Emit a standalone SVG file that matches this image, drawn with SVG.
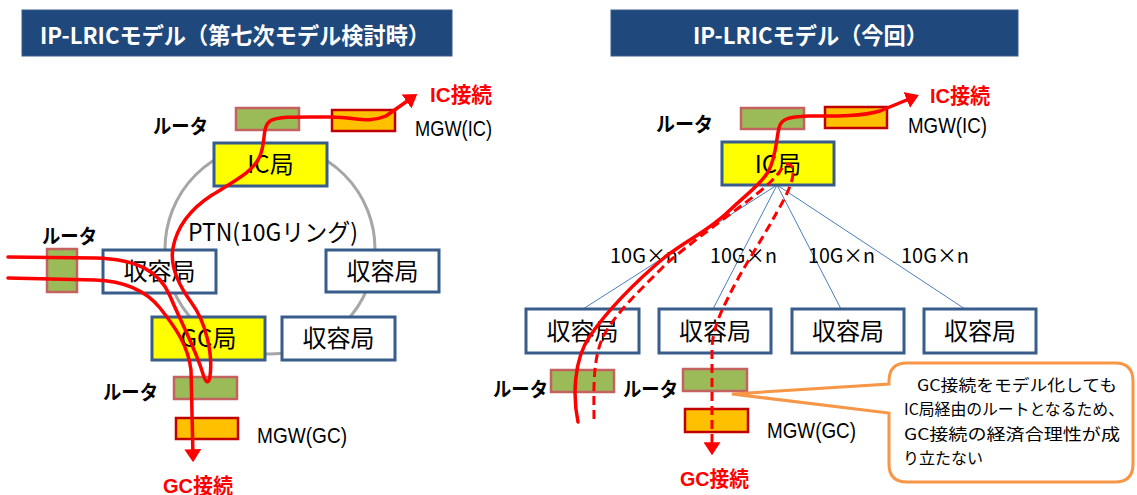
<svg xmlns="http://www.w3.org/2000/svg" width="1137" height="495" viewBox="0 0 1137 495">
<defs>
<marker id="arr" viewBox="0 0 10 10" refX="6" refY="5" markerWidth="13" markerHeight="17" markerUnits="userSpaceOnUse" orient="auto" preserveAspectRatio="none">
<path d="M0,0 L10,5 L0,10 Z" fill="#FF0000"/>
</marker>
</defs>
<style>
text{font-family:"Liberation Sans","Noto Sans CJK JP",sans-serif;fill:#000}
.title{fill:#1F497D;stroke:#385D8A;stroke-width:1}
.ttl{fill:#fff;font-size:23px;font-weight:bold;font-family:"Noto Sans CJK JP",sans-serif}
.box{fill:#fff;stroke:#385D8A;stroke-width:3}
.ybox{fill:#FFFF00;stroke:#385D8A;stroke-width:3}
.router{fill:#9BBB59;stroke:#C3625F;stroke-width:2.5}
.mgw{fill:#FFC000;stroke:#C00000;stroke-width:2.5}
.bt{font-size:24px;font-family:"Noto Sans CJK JP",sans-serif}
.lbl{font-size:20px;font-weight:bold;font-family:"Noto Sans CJK JP",sans-serif}
.ml{font-size:22px}
.red{fill:#FF0000;font-size:21px;font-weight:bold}
.gn{font-size:20px;font-family:"Noto Sans CJK JP",sans-serif}
.co{font-size:16px;font-family:"Noto Sans CJK JP",sans-serif}
.ring{fill:none;stroke:#A6A6A6;stroke-width:3}
.fan{stroke:#4A7EBB;stroke-width:1;fill:none}
.rl{fill:none;stroke:#FF0000;stroke-width:3.5;stroke-linecap:round;stroke-linejoin:round}
.rd{fill:none;stroke:#FF0000;stroke-width:3;stroke-dasharray:9 5}
</style>
<rect width="1137" height="495" fill="#fff"/>

<g id="title-left">
<rect class="title" x="22" y="10" width="430" height="46"/>
<text class="ttl" x="40" y="44" textLength="390" lengthAdjust="spacingAndGlyphs">IP-LRICモデル（第七次モデル検討時）</text>
</g>
<g id="title-right">
<rect class="title" x="611" y="10" width="407" height="46"/>
<text class="ttl" x="693" y="44" textLength="235" lengthAdjust="spacingAndGlyphs">IP-LRICモデル（今回）</text>
</g>

<g id="ptn-ring">
<circle class="ring" cx="270" cy="249" r="105"/>
</g>

<g id="connectors-fan">
<line class="fan" x1="777" y1="185" x2="583" y2="309"/>
<line class="fan" x1="777" y1="185" x2="713" y2="309"/>
<line class="fan" x1="777" y1="185" x2="841" y2="309"/>
<line class="fan" x1="777" y1="185" x2="965" y2="309"/>
</g>

<g id="l-router-ic">
<rect class="router" x="236" y="108" width="63" height="22"/>
<text class="lbl" x="153" y="134" textLength="55" lengthAdjust="spacingAndGlyphs">ルータ</text>
</g>
<g id="l-mgw-ic">
<rect class="mgw" x="332" y="110" width="63" height="21"/>
<text class="ml" x="415" y="136" textLength="77" lengthAdjust="spacingAndGlyphs">MGW(IC)</text>
</g>
<g id="l-ic">
<rect class="ybox" x="214" y="143" width="113" height="43"/>
<text class="bt" x="270.5" y="173" text-anchor="middle">IC局</text>
</g>
<g id="l-ptn-label">
<text class="bt" x="188" y="241" textLength="170" lengthAdjust="spacingAndGlyphs">PTN(10Gリング)</text>
</g>
<g id="l-router-left">
<rect class="router" x="47" y="249" width="30" height="43"/>
<text class="lbl" x="42" y="244" textLength="55" lengthAdjust="spacingAndGlyphs">ルータ</text>
</g>
<g id="l-acc1">
<rect class="box" x="103" y="250" width="113" height="43"/>
<text class="bt" x="159.5" y="280" text-anchor="middle">収容局</text>
</g>
<g id="l-acc2">
<rect class="box" x="326" y="250" width="113" height="42"/>
<text class="bt" x="382.5" y="280" text-anchor="middle">収容局</text>
</g>
<g id="l-gc">
<rect class="ybox" x="152" y="317" width="113" height="43"/>
<text class="bt" x="208.5" y="347" text-anchor="middle">GC局</text>
</g>
<g id="l-acc3">
<rect class="box" x="282" y="317" width="113" height="43"/>
<text class="bt" x="338.5" y="347" text-anchor="middle">収容局</text>
</g>
<g id="l-router-gc">
<rect class="router" x="174" y="377" width="63" height="22"/>
<text class="lbl" x="103" y="400" textLength="55" lengthAdjust="spacingAndGlyphs">ルータ</text>
</g>
<g id="l-mgw-gc">
<rect class="mgw" x="176" y="418" width="62" height="21"/>
<text class="ml" x="257" y="443" textLength="90" lengthAdjust="spacingAndGlyphs">MGW(GC)</text>
</g>
<g id="l-labels">
<text class="red" x="430" y="102" textLength="62" lengthAdjust="spacingAndGlyphs">IC接続</text>
<text class="red" x="163" y="493" textLength="70" lengthAdjust="spacingAndGlyphs">GC接続</text>
</g>

<g id="r-router-ic">
<rect class="router" x="741" y="108" width="63" height="21"/>
<text class="lbl" x="656" y="132" textLength="57" lengthAdjust="spacingAndGlyphs">ルータ</text>
</g>
<g id="r-mgw-ic">
<rect class="mgw" x="825" y="107" width="62" height="21"/>
<text class="ml" x="908" y="133" textLength="79" lengthAdjust="spacingAndGlyphs">MGW(IC)</text>
</g>
<g id="r-ic">
<rect class="ybox" x="722" y="142" width="112" height="43"/>
<text class="bt" x="778" y="173" text-anchor="middle">IC局</text>
</g>
<g id="r-acc1">
<rect class="box" x="526" y="309" width="113" height="44"/>
<text class="bt" x="582.5" y="340" text-anchor="middle">収容局</text>
</g>
<g id="r-acc2">
<rect class="box" x="659" y="309" width="112" height="44"/>
<text class="bt" x="715" y="340" text-anchor="middle">収容局</text>
</g>
<g id="r-acc3">
<rect class="box" x="792" y="309" width="112" height="44"/>
<text class="bt" x="848" y="340" text-anchor="middle">収容局</text>
</g>
<g id="r-acc4">
<rect class="box" x="924" y="309" width="112" height="44"/>
<text class="bt" x="980" y="340" text-anchor="middle">収容局</text>
</g>
<g id="r-router1">
<rect class="router" x="551" y="370" width="63" height="22"/>
<text class="lbl" x="493" y="397" textLength="55" lengthAdjust="spacingAndGlyphs">ルータ</text>
</g>
<g id="r-router2">
<rect class="router" x="683" y="369" width="64" height="22"/>
<text class="lbl" x="623" y="397" textLength="55" lengthAdjust="spacingAndGlyphs">ルータ</text>
</g>
<g id="r-mgw-gc">
<rect class="mgw" x="685" y="409" width="63" height="23"/>
<text class="ml" x="767" y="438" textLength="89" lengthAdjust="spacingAndGlyphs">MGW(GC)</text>
</g>
<g id="r-labels">
<text class="red" x="930" y="103" textLength="60" lengthAdjust="spacingAndGlyphs">IC接続</text>
<text class="red" x="680" y="486" textLength="69" lengthAdjust="spacingAndGlyphs">GC接続</text>
<text class="gn" x="610" y="263" textLength="68" lengthAdjust="spacingAndGlyphs">10G×n</text>
<text class="gn" x="710" y="263" textLength="67" lengthAdjust="spacingAndGlyphs">10G×n</text>
<text class="gn" x="808" y="263" textLength="67" lengthAdjust="spacingAndGlyphs">10G×n</text>
<text class="gn" x="901" y="263" textLength="68" lengthAdjust="spacingAndGlyphs">10G×n</text>
</g>

<g id="connectors-routes">
<path class="rl" marker-end="url(#arr)" d="M8,257 L95,258 C138,259 160,272 170,296 C181,322 196,350 203,374 C206,384 209,384 210,376 C213,354 206,322 191,302 C178,284 170,264 173,248 C177,226 192,208 212,195 C236,180 254,171 260,156 C266,141 262,127 270,121 C278,116 300,117 330,117 C358,117 366,124 386,116 L413,97"/>
<path class="rl" marker-end="url(#arr)" d="M8,278 L95,280 C125,281 147,292 160,308 C175,327 188,345 191,370 L193,457"/>
<path class="rl" marker-end="url(#arr)" d="M578,422 C573,398 573,360 590,336 C606,312 635,282 665,257 C690,238 710,230 730,210 C748,193 760,185 768,172 C776,158 776,140 779,128 C781,118 790,117 808,116 C830,116 860,117 880,111 L914,97"/>
<path class="rd" marker-end="url(#arr)" d="M594,419 C594,395 592,360 603,337 C614,315 640,290 665,265 C690,243 720,222 745,203 C765,188 776,178 782,168 C786,162 792,163 793,170 C794,180 787,195 777,212 C762,240 740,272 727,300 C716,322 712,335 712,352 L712,450"/>
</g>

<g id="callout">
<path d="M907,363 H1115 Q1133,363 1133,381 V464 Q1133,482 1115,482 H907 Q889,482 889,464 V413 L732,394 L889,384 V381 Q889,363 907,363 Z" fill="#fff" stroke="#F79646" stroke-width="3"/>
<text class="co" x="917" y="391" textLength="200" lengthAdjust="spacingAndGlyphs">GC接続をモデル化しても</text>
<text class="co" x="904" y="415" textLength="220" lengthAdjust="spacingAndGlyphs">IC局経由のルートとなるため、</text>
<text class="co" x="904" y="440" textLength="216" lengthAdjust="spacingAndGlyphs">GC接続の経済合理性が成</text>
<text class="co" x="903" y="464" textLength="80" lengthAdjust="spacingAndGlyphs">り立たない</text>
</g>
</svg>
